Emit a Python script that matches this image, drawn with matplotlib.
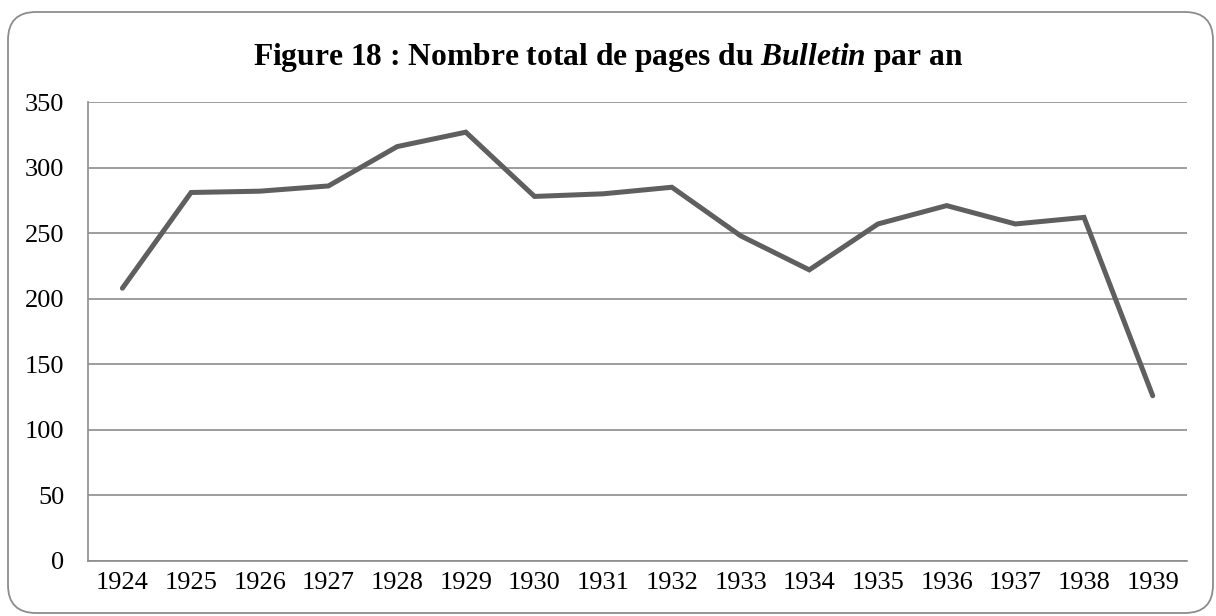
import matplotlib
matplotlib.use("Agg")
import matplotlib.pyplot as plt
import matplotlib.patches as mpatches

# données
annees = ['1924', '1925', '1926', '1927', '1928', '1929', '1930', '1931',
          '1932', '1933', '1934', '1935', '1936', '1937', '1938', '1939']
pages = [208, 281, 282, 286, 316, 327, 278, 280,
         285, 248, 222, 257, 271, 257, 262, 126]
graduations = [0, 50, 100, 150, 200, 250, 300, 350]

plt.rcParams['font.family'] = 'Liberation Serif'
plt.rcParams['mathtext.fontset'] = 'custom'
plt.rcParams['mathtext.it'] = 'Liberation Serif:italic:bold'
plt.rcParams['mathtext.rm'] = 'Liberation Serif:bold'

fig = plt.figure(figsize=(12.16, 6.16), dpi=100)
ax = fig.add_axes([0.0724, 0.0893, 0.9038, 0.7451])

ax.plot(range(len(annees)), pages, color='#5f5f5f', lw=3.6,
        solid_joinstyle='miter', solid_capstyle='round', zorder=3)

ax.set_xlim(-0.5, len(annees) - 0.5)
ax.set_ylim(0, 350)
ax.set_yticks(graduations)
ax.set_xticks(range(len(annees)))
ax.set_xticklabels(annees)
ax.tick_params(axis='both', length=0, labelsize=19, colors='black')
ax.tick_params(axis='y', pad=17)
ax.tick_params(axis='x', pad=8)
ax.yaxis.grid(True, color='#8c8c8c', lw=1.2)
ax.set_axisbelow(True)
for s in ['top', 'right']:
    ax.spines[s].set_visible(False)
for s in ['left', 'bottom']:
    ax.spines[s].set_color('#8c8c8c')
    ax.spines[s].set_linewidth(1.2)

fig.text(0.5, 0.907, r'Figure 18 : Nombre total de pages du $\mathit{Bulletin}$ par an',
         ha='center', va='center', fontsize=22.7, fontweight='bold')

# cadre arrondi
cadre = mpatches.FancyBboxPatch((0.08, 0.03), 12.05, 6.01,
                                boxstyle='round,pad=0,rounding_size=0.28',
                                transform=fig.dpi_scale_trans,
                                fill=False, edgecolor='#8c8c8c', lw=1.3)
fig.patches.append(cadre)

plt.savefig('out.png', dpi=100)
